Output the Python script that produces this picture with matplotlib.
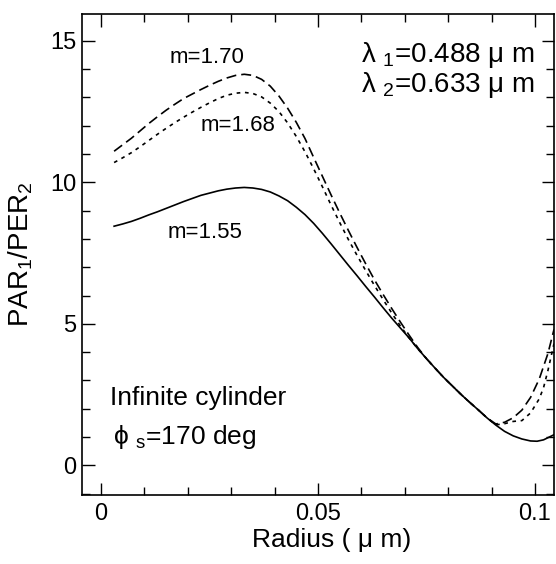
import matplotlib
matplotlib.use("Agg")
import matplotlib.pyplot as plt
from matplotlib.ticker import MultipleLocator

plt.rcParams['font.family'] = ['Liberation Sans', 'DejaVu Sans']
plt.rcParams['mathtext.fontset'] = 'custom'
plt.rcParams['mathtext.rm'] = 'Liberation Sans'

# m = 1.55 (solid)
x_155 = [0.003, 0.005, 0.007, 0.009, 0.011, 0.013, 0.015, 0.017, 0.019, 0.021, 0.023, 0.025,
         0.027, 0.029, 0.031, 0.033, 0.035, 0.037, 0.039, 0.041, 0.043, 0.045, 0.047, 0.049,
         0.051, 0.053, 0.055, 0.057, 0.059, 0.061, 0.063, 0.065, 0.067, 0.069, 0.071, 0.073,
         0.075, 0.077, 0.079, 0.081, 0.083, 0.085, 0.087, 0.089, 0.091, 0.093, 0.095, 0.097,
         0.099, 0.1005, 0.102, 0.1044]
y_155 = [8.45, 8.53, 8.62, 8.73, 8.85, 8.96, 9.08, 9.20, 9.32, 9.43, 9.54, 9.62,
         9.70, 9.76, 9.80, 9.82, 9.80, 9.75, 9.66, 9.52, 9.35, 9.12, 8.86, 8.55,
         8.20, 7.83, 7.45, 7.07, 6.70, 6.32, 5.95, 5.57, 5.20, 4.85, 4.50, 4.12,
         3.77, 3.43, 3.10, 2.80, 2.50, 2.22, 1.95, 1.67, 1.42, 1.20, 1.04, 0.93,
         0.86, 0.85, 0.90, 1.08]

# m = 1.70 (dashed)
x_170 = [0.003, 0.005, 0.007, 0.009, 0.011, 0.013, 0.015, 0.017, 0.019, 0.021, 0.023, 0.025,
         0.027, 0.029, 0.031, 0.033, 0.035, 0.037, 0.039, 0.041, 0.043, 0.045, 0.047, 0.049,
         0.051, 0.053, 0.055, 0.057, 0.059, 0.061, 0.063, 0.065, 0.067, 0.069, 0.071, 0.073,
         0.075, 0.077, 0.079, 0.081, 0.083, 0.085, 0.087, 0.089, 0.091, 0.093, 0.095, 0.097,
         0.099, 0.101, 0.103, 0.1044]
y_170 = [11.10, 11.33, 11.56, 11.82, 12.08, 12.32, 12.55, 12.76, 12.96, 13.12, 13.28, 13.43,
         13.57, 13.69, 13.78, 13.82, 13.78, 13.64, 13.40, 13.05, 12.62, 12.12, 11.55, 10.88,
         10.22, 9.56, 8.92, 8.30, 7.70, 7.12, 6.56, 6.04, 5.54, 5.06, 4.60, 4.16,
         3.77, 3.43, 3.10, 2.80, 2.50, 2.22, 1.95, 1.67, 1.46, 1.52, 1.68, 1.95,
         2.40, 3.05, 3.95, 4.80]

# m = 1.68 (dotted)
x_168 = [0.003, 0.005, 0.007, 0.009, 0.011, 0.013, 0.015, 0.017, 0.019, 0.021, 0.023, 0.025,
         0.027, 0.029, 0.031, 0.033, 0.035, 0.037, 0.039, 0.041, 0.043, 0.045, 0.047, 0.049,
         0.051, 0.053, 0.055, 0.057, 0.059, 0.061, 0.063, 0.065, 0.067, 0.069, 0.071, 0.073,
         0.075, 0.077, 0.079, 0.081, 0.083, 0.085, 0.087, 0.089, 0.091, 0.093, 0.095, 0.097,
         0.099, 0.101, 0.102, 0.103, 0.1044]
y_168 = [10.70, 10.87, 11.05, 11.26, 11.48, 11.70, 11.91, 12.11, 12.30, 12.48, 12.65, 12.81,
         12.96, 13.08, 13.15, 13.18, 13.14, 13.02, 12.80, 12.50, 12.10, 11.62, 11.08, 10.48,
         9.85, 9.20, 8.58, 7.98, 7.42, 6.88, 6.36, 5.86, 5.38, 4.92, 4.50, 4.12,
         3.77, 3.43, 3.10, 2.80, 2.50, 2.22, 1.95, 1.67, 1.43, 1.47, 1.55, 1.58,
         1.85, 2.35, 2.75, 3.35, 4.30]

x_ticks = [0, 0.05, 0.1]
x_ticklabels = ['0', '0.05', '0.1']
y_ticks = [0, 5, 10, 15]
y_ticklabels = ['0', '5', '10', '15']

fig = plt.figure(figsize=(5.56, 5.64), dpi=100)
ax = fig.add_axes([82/556, 69/564, 472/556, 481/564])

ax.plot(x_155, y_155, color='black', lw=1.2, linestyle='-')
ax.plot(x_170, y_170, color='black', lw=1.2, linestyle=(0, (6, 3)))
ax.plot(x_168, y_168, color='black', lw=1.2, linestyle=(0, (2.2, 2.8)))

ax.set_xlim(-0.0044, 0.1044)
ax.set_ylim(-1.05, 15.95)

ax.set_xticks(x_ticks)
ax.set_xticklabels(x_ticklabels)
ax.set_yticks(y_ticks)
ax.set_yticklabels(y_ticklabels)
ax.xaxis.set_minor_locator(MultipleLocator(0.01))
ax.yaxis.set_minor_locator(MultipleLocator(1))

ax.tick_params(which='both', direction='in', top=True, right=True, width=1.0, color='black')
ax.tick_params(which='major', length=9, labelsize=17)
ax.tick_params(axis='x', which='major', pad=6)
ax.tick_params(axis='y', which='major', pad=4)
ax.tick_params(which='minor', length=6)
for s in ax.spines.values():
    s.set_linewidth(1.2)

ax.set_xlabel('Radius ( μ m)', fontsize=19)
ax.xaxis.set_label_coords(0.528, -0.068)
ax.set_ylabel(r'PAR$\mathregular{_1}$/PER$\mathregular{_2}$', fontsize=20)
ax.yaxis.set_label_coords(-0.10, 0.5)

ax.text(0.0244, 14.4, 'm=1.70', fontsize=16, ha='center', va='center')
ax.text(0.0316, 12.0, 'm=1.68', fontsize=16, ha='center', va='center')
ax.text(0.024, 8.23, 'm=1.55', fontsize=16, ha='center', va='center')

ax.text(0.0999, 14.5, r'λ $\mathregular{_1}$=0.488 μ m', fontsize=20, ha='right', va='center')
ax.text(0.0999, 13.45, r'λ $\mathregular{_2}$=0.633 μ m', fontsize=20, ha='right', va='center')

ax.text(0.0021, 2.37, 'Infinite cylinder', fontsize=19, ha='left', va='center')
ax.text(0.0028, 1.0, r'ϕ $\mathregular{_s}$=170 deg', fontsize=19, ha='left', va='center')

fig.savefig('out.png', dpi=100)
